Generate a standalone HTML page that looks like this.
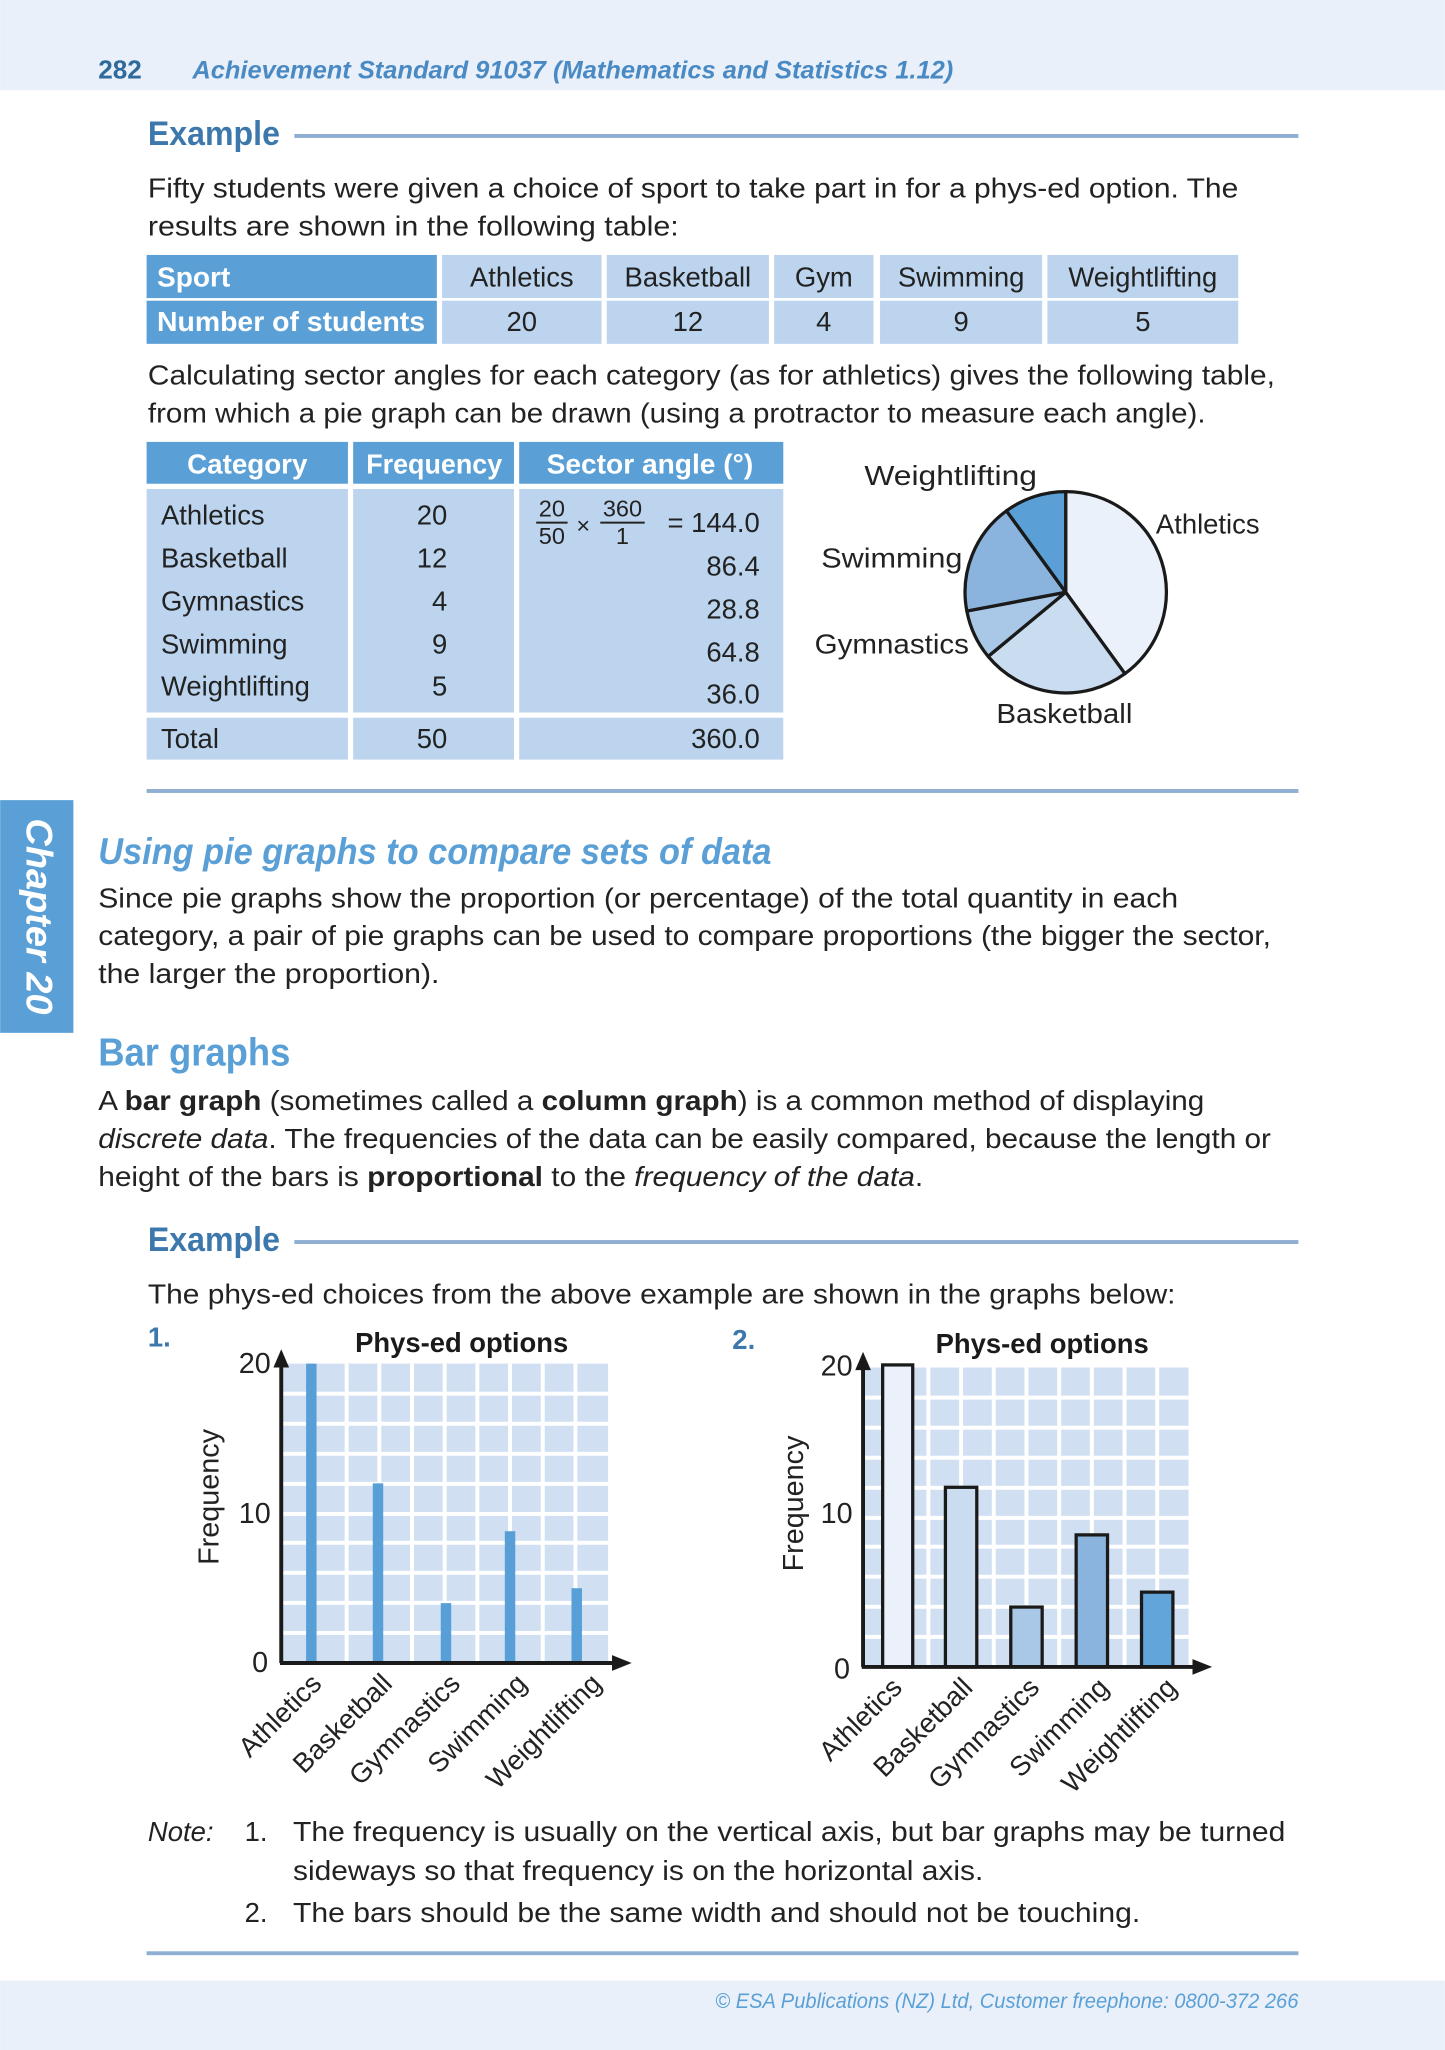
<!DOCTYPE html>
<html><head><meta charset="utf-8"><style>
html,body{margin:0;padding:0;background:#fff}
svg{display:block}
text{font-family:"Liberation Sans",sans-serif}
</style></head><body>
<svg width="1445" height="2050" viewBox="0 0 1105 1568" xmlns="http://www.w3.org/2000/svg">
<rect x="0" y="0" width="1105" height="69" fill="#e9f0f9"/>
<text x="75" y="60" font-size="20" font-weight="bold" fill="#2f6a9c">282</text>
<text x="147" y="60" font-size="19" font-style="italic" font-weight="bold" fill="#4a8ac4" textLength="582" lengthAdjust="spacingAndGlyphs">Achievement Standard 91037 (Mathematics and Statistics 1.12)</text>

<text x="113" y="111" font-size="26" font-weight="bold" fill="#3d78ad" textLength="101" lengthAdjust="spacingAndGlyphs">Example</text>
<rect x="225" y="102.5" width="768" height="3" fill="#8eaed2"/>
<g font-size="21" fill="#222">
<text x="113" y="151" textLength="834" lengthAdjust="spacingAndGlyphs">Fifty students were given a choice of sport to take part in for a phys-ed option. The</text>
<text x="113" y="180" textLength="406" lengthAdjust="spacingAndGlyphs">results are shown in the following table:</text>
</g>
<g>
<rect x="112" y="195" width="222" height="33" fill="#5aa0d6"/>
<rect x="112" y="230" width="222" height="33" fill="#5aa0d6"/>
<rect x="338" y="195" width="122" height="33" fill="#bcd4ee"/><rect x="338" y="230" width="122" height="33" fill="#bcd4ee"/>
<rect x="464" y="195" width="124" height="33" fill="#bcd4ee"/><rect x="464" y="230" width="124" height="33" fill="#bcd4ee"/>
<rect x="592" y="195" width="76" height="33" fill="#bcd4ee"/><rect x="592" y="230" width="76" height="33" fill="#bcd4ee"/>
<rect x="673" y="195" width="124" height="33" fill="#bcd4ee"/><rect x="673" y="230" width="124" height="33" fill="#bcd4ee"/>
<rect x="801" y="195" width="146" height="33" fill="#bcd4ee"/><rect x="801" y="230" width="146" height="33" fill="#bcd4ee"/>
<text x="120" y="219" font-size="21" font-weight="bold" fill="#fff" textLength="56" lengthAdjust="spacingAndGlyphs">Sport</text>
<text x="120" y="253" font-size="21" font-weight="bold" fill="#fff" textLength="205" lengthAdjust="spacingAndGlyphs">Number of students</text>
<g font-size="21" fill="#222" text-anchor="middle">
<text x="399" y="219">Athletics</text><text x="526" y="219">Basketball</text><text x="630" y="219">Gym</text><text x="735" y="219">Swimming</text><text x="874" y="219">Weightlifting</text>
<text x="399" y="253">20</text><text x="526" y="253">12</text><text x="630" y="253">4</text><text x="735" y="253">9</text><text x="874" y="253">5</text>
</g>
</g>
<g font-size="21" fill="#222">
<text x="113" y="294" textLength="862" lengthAdjust="spacingAndGlyphs">Calculating sector angles for each category (as for athletics) gives the following table,</text>
<text x="113" y="323" textLength="809" lengthAdjust="spacingAndGlyphs">from which a pie graph can be drawn (using a protractor to measure each angle).</text>
</g>
<g>
<rect x="112" y="338" width="154" height="32" fill="#5aa0d6"/>
<rect x="270" y="338" width="123" height="32" fill="#5aa0d6"/>
<rect x="397" y="338" width="202" height="32" fill="#5aa0d6"/>
<rect x="112" y="374" width="154" height="171" fill="#bcd4ee"/>
<rect x="270" y="374" width="123" height="171" fill="#bcd4ee"/>
<rect x="397" y="374" width="202" height="171" fill="#bcd4ee"/>
<rect x="112" y="549" width="154" height="32" fill="#bcd4ee"/>
<rect x="270" y="549" width="123" height="32" fill="#bcd4ee"/>
<rect x="397" y="549" width="202" height="32" fill="#bcd4ee"/>
<g font-size="21" font-weight="bold" fill="#fff" text-anchor="middle">
<text x="189" y="362" textLength="92" lengthAdjust="spacingAndGlyphs">Category</text>
<text x="332" y="362" textLength="104" lengthAdjust="spacingAndGlyphs">Frequency</text>
<text x="497" y="362" textLength="158" lengthAdjust="spacingAndGlyphs">Sector angle (°)</text>
</g>
<g font-size="21" fill="#222">
<text x="123" y="401">Athletics</text><text x="123" y="434">Basketball</text><text x="123" y="467">Gymnastics</text><text x="123" y="500">Swimming</text><text x="123" y="532">Weightlifting</text><text x="123" y="572">Total</text>
</g>
<g font-size="21" fill="#222" text-anchor="end">
<text x="342" y="401">20</text><text x="342" y="434">12</text><text x="342" y="467">4</text><text x="342" y="500">9</text><text x="342" y="532">5</text><text x="342" y="572">50</text>
<text x="581" y="407">= 144.0</text><text x="581" y="440">86.4</text><text x="581" y="473">28.8</text><text x="581" y="506">64.8</text><text x="581" y="538">36.0</text><text x="581" y="572">360.0</text>
</g>
<g font-size="18" fill="#222" text-anchor="middle">
<text x="422" y="395">20</text><rect x="410" y="399" width="24" height="1.5" fill="#222"/><text x="422" y="416">50</text>
<text x="446" y="408">×</text>
<text x="476" y="395">360</text><rect x="459" y="399" width="34" height="1.5" fill="#222"/><text x="476" y="416">1</text>
</g>
</g>
<g stroke="#1a1a1a" stroke-width="2.5" stroke-linejoin="round">
<path d="M815,453 L815,376 A77,77 0 0 1 860.3,515.3 Z" fill="#eaf1fa"/>
<path d="M815,453 L860.3,515.3 A77,77 0 0 1 755.7,502.1 Z" fill="#c9dcf0"/>
<path d="M815,453 L755.7,502.1 A77,77 0 0 1 739.4,467.4 Z" fill="#a9c8e8"/>
<path d="M815,453 L739.4,467.4 A77,77 0 0 1 769.7,390.7 Z" fill="#8ab4de"/>
<path d="M815,453 L769.7,390.7 A77,77 0 0 1 815,376 Z" fill="#5aa0d6"/>
</g>
<g font-size="21" fill="#222">
<text x="661" y="371" textLength="132" lengthAdjust="spacingAndGlyphs">Weightlifting</text><text x="884" y="408">Athletics</text><text x="628" y="434" textLength="108" lengthAdjust="spacingAndGlyphs">Swimming</text><text x="623" y="500" textLength="118" lengthAdjust="spacingAndGlyphs">Gymnastics</text><text x="762" y="553" textLength="104" lengthAdjust="spacingAndGlyphs">Basketball</text>
</g>
<rect x="112" y="603.5" width="881" height="3" fill="#8eaed2"/>

<rect x="0" y="612" width="56" height="178" fill="#5aa0d6"/>
<text transform="translate(20,626) rotate(90)" font-family="Liberation Serif,serif" font-size="28" font-style="italic" font-weight="bold" fill="#fff" textLength="150" lengthAdjust="spacingAndGlyphs">Chapter 20</text>

<text x="75" y="661" font-size="28" font-style="italic" font-weight="bold" fill="#5aa0d6" textLength="515" lengthAdjust="spacingAndGlyphs">Using pie graphs to compare sets of data</text>
<g font-size="21" fill="#222">
<text x="75" y="694" textLength="826" lengthAdjust="spacingAndGlyphs">Since pie graphs show the proportion (or percentage) of the total quantity in each</text>
<text x="75" y="723" textLength="897" lengthAdjust="spacingAndGlyphs">category, a pair of pie graphs can be used to compare proportions (the bigger the sector,</text>
<text x="75" y="752" textLength="261" lengthAdjust="spacingAndGlyphs">the larger the proportion).</text>
</g>
<text x="75" y="815" font-size="30" font-weight="bold" fill="#5aa0d6" textLength="147" lengthAdjust="spacingAndGlyphs">Bar graphs</text>
<g font-size="21" fill="#222">
<text x="75" y="849" textLength="846" lengthAdjust="spacingAndGlyphs">A <tspan font-weight="bold">bar graph</tspan> (sometimes called a <tspan font-weight="bold">column graph</tspan>) is a common method of displaying</text>
<text x="75" y="878" textLength="897" lengthAdjust="spacingAndGlyphs"><tspan font-style="italic">discrete data</tspan>. The frequencies of the data can be easily compared, because the length or</text>
<text x="75" y="907" textLength="631" lengthAdjust="spacingAndGlyphs">height of the bars is <tspan font-weight="bold">proportional</tspan> to the <tspan font-style="italic">frequency of the data</tspan>.</text>
</g>
<text x="113" y="957" font-size="26" font-weight="bold" fill="#3d78ad" textLength="101" lengthAdjust="spacingAndGlyphs">Example</text>
<rect x="225" y="948.5" width="768" height="3" fill="#8eaed2"/>
<text x="113" y="997" font-size="21" fill="#222" textLength="786" lengthAdjust="spacingAndGlyphs">The phys-ed choices from the above example are shown in the graphs below:</text>
<text x="113" y="1030" font-size="21" font-weight="bold" fill="#3d78ad">1.</text>
<text x="560" y="1032" font-size="21" font-weight="bold" fill="#3d78ad">2.</text>

<g>
<text x="353" y="1034" font-size="21" font-weight="bold" fill="#1a1a1a" text-anchor="middle" textLength="163" lengthAdjust="spacingAndGlyphs">Phys-ed options</text>
<rect x="215" y="1043" width="250" height="229" fill="#d0e0f2"/>
<g stroke="#fff" stroke-width="3">
<line x1="215" y1="1066" x2="465" y2="1066"/><line x1="215" y1="1089" x2="465" y2="1089"/><line x1="215" y1="1112" x2="465" y2="1112"/><line x1="215" y1="1135" x2="465" y2="1135"/><line x1="215" y1="1158" x2="465" y2="1158"/><line x1="215" y1="1180" x2="465" y2="1180"/><line x1="215" y1="1203" x2="465" y2="1203"/><line x1="215" y1="1226" x2="465" y2="1226"/><line x1="215" y1="1249" x2="465" y2="1249"/>
<line x1="240" y1="1043" x2="240" y2="1272"/><line x1="265" y1="1043" x2="265" y2="1272"/><line x1="290" y1="1043" x2="290" y2="1272"/><line x1="315" y1="1043" x2="315" y2="1272"/><line x1="340" y1="1043" x2="340" y2="1272"/><line x1="365" y1="1043" x2="365" y2="1272"/><line x1="390" y1="1043" x2="390" y2="1272"/><line x1="415" y1="1043" x2="415" y2="1272"/><line x1="440" y1="1043" x2="440" y2="1272"/>
</g>
<g fill="#579fd6">
<rect x="234" y="1043" width="8" height="229"/>
<rect x="285" y="1134.6" width="8" height="137.4"/>
<rect x="337" y="1226.2" width="8" height="45.8"/>
<rect x="386" y="1171.2" width="8" height="100.8"/>
<rect x="437" y="1214.8" width="8" height="57.2"/>
</g>
<line x1="215" y1="1272" x2="215" y2="1044" stroke="#1a1a1a" stroke-width="3"/>
<polygon points="215,1032 209,1046 221,1046" fill="#1a1a1a"/>
<line x1="214" y1="1272" x2="470" y2="1272" stroke="#1a1a1a" stroke-width="3"/>
<polygon points="483,1272 468,1266 468,1278" fill="#1a1a1a"/>
<g font-size="22" fill="#222" text-anchor="end">
<text x="207" y="1050">20</text><text x="207" y="1165">10</text><text x="205" y="1279">0</text>
</g>
<text transform="translate(167,1145) rotate(-90)" font-size="22" fill="#222" text-anchor="middle">Frequency</text>
<g font-size="21" fill="#222" text-anchor="end">
<text transform="translate(247,1289) rotate(-45)">Athletics</text>
<text transform="translate(301,1289) rotate(-45)">Basketball</text>
<text transform="translate(353,1289) rotate(-45)">Gymnastics</text>
<text transform="translate(404,1289) rotate(-45)">Swimming</text>
<text transform="translate(461,1289) rotate(-45)">Weightlifting</text>
</g>
</g>

<g>
<text x="797" y="1035" font-size="21" font-weight="bold" fill="#1a1a1a" text-anchor="middle" textLength="163" lengthAdjust="spacingAndGlyphs">Phys-ed options</text>
<rect x="660" y="1046" width="249" height="229" fill="#d0e0f2"/>
<g stroke="#fff" stroke-width="3">
<line x1="660" y1="1069" x2="909" y2="1069"/><line x1="660" y1="1092" x2="909" y2="1092"/><line x1="660" y1="1115" x2="909" y2="1115"/><line x1="660" y1="1138" x2="909" y2="1138"/><line x1="660" y1="1161" x2="909" y2="1161"/><line x1="660" y1="1183" x2="909" y2="1183"/><line x1="660" y1="1206" x2="909" y2="1206"/><line x1="660" y1="1229" x2="909" y2="1229"/><line x1="660" y1="1252" x2="909" y2="1252"/>
<line x1="685" y1="1046" x2="685" y2="1275"/><line x1="710" y1="1046" x2="710" y2="1275"/><line x1="735" y1="1046" x2="735" y2="1275"/><line x1="760" y1="1046" x2="760" y2="1275"/><line x1="785" y1="1046" x2="785" y2="1275"/><line x1="810" y1="1046" x2="810" y2="1275"/><line x1="835" y1="1046" x2="835" y2="1275"/><line x1="860" y1="1046" x2="860" y2="1275"/><line x1="885" y1="1046" x2="885" y2="1275"/>
</g>
<g stroke="#1a1a1a" stroke-width="2.5">
<rect x="675" y="1044" width="23" height="231" fill="#eaf1fa"/>
<rect x="723" y="1137.6" width="24" height="137.4" fill="#c9dcf0"/>
<rect x="773" y="1229.2" width="24" height="45.8" fill="#a9c8e8"/>
<rect x="823" y="1174" width="24" height="101" fill="#8ab4de"/>
<rect x="873" y="1217.8" width="24" height="57.2" fill="#62a5da"/>
</g>
<line x1="660" y1="1275" x2="660" y2="1046" stroke="#1a1a1a" stroke-width="3"/>
<polygon points="660,1034 654,1048 666,1048" fill="#1a1a1a"/>
<line x1="659" y1="1275" x2="913" y2="1275" stroke="#1a1a1a" stroke-width="3"/>
<polygon points="927,1275 912,1269 912,1281" fill="#1a1a1a"/>
<g font-size="22" fill="#222" text-anchor="end">
<text x="652" y="1052">20</text><text x="652" y="1165">10</text><text x="650" y="1284">0</text>
</g>
<text transform="translate(614,1150) rotate(-90)" font-size="22" fill="#222" text-anchor="middle">Frequency</text>
<g font-size="21" fill="#222" text-anchor="end">
<text transform="translate(691,1292) rotate(-45)">Athletics</text>
<text transform="translate(745,1292) rotate(-45)">Basketball</text>
<text transform="translate(796,1292) rotate(-45)">Gymnastics</text>
<text transform="translate(849,1292) rotate(-45)">Swimming</text>
<text transform="translate(901,1292) rotate(-45)">Weightlifting</text>
</g>
</g>

<g font-size="21" fill="#222">
<text x="113" y="1408" font-style="italic">Note:</text>
<text x="187" y="1408">1.</text>
<text x="224" y="1408" textLength="759" lengthAdjust="spacingAndGlyphs">The frequency is usually on the vertical axis, but bar graphs may be turned</text>
<text x="224" y="1438" textLength="528" lengthAdjust="spacingAndGlyphs">sideways so that frequency is on the horizontal axis.</text>
<text x="187" y="1470">2.</text>
<text x="224" y="1470" textLength="648" lengthAdjust="spacingAndGlyphs">The bars should be the same width and should not be touching.</text>
</g>
<rect x="112" y="1492.5" width="881" height="3" fill="#8eaed2"/>
<rect x="0" y="1515" width="1105" height="53" fill="#e9f0f9"/>
<text x="993" y="1536" font-size="16" font-style="italic" fill="#5aa0d6" text-anchor="end" textLength="446" lengthAdjust="spacingAndGlyphs">© ESA Publications (NZ) Ltd, Customer freephone: 0800-372 266</text>
</svg>
</body></html>
